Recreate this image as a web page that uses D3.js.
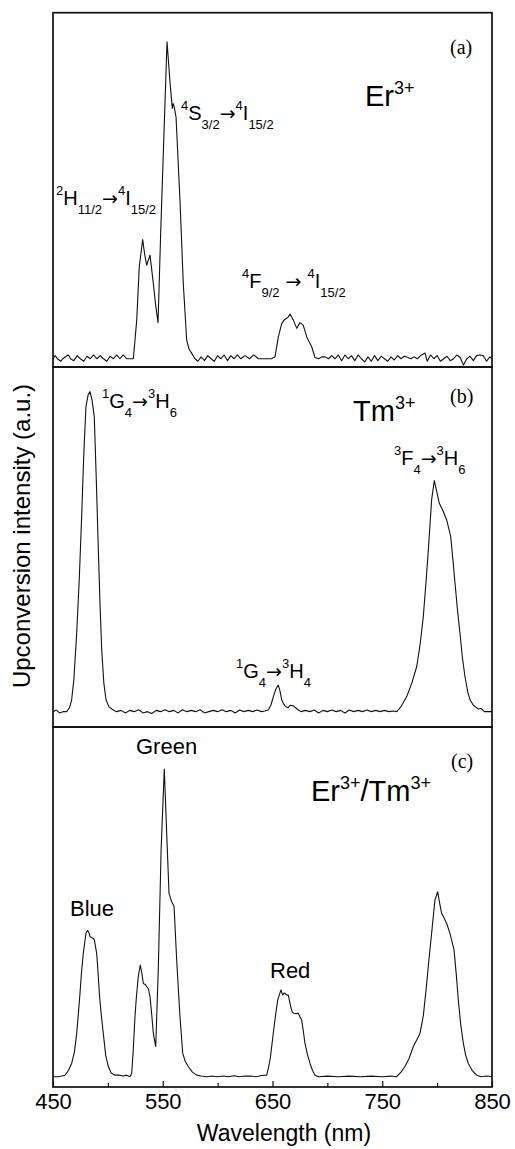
<!DOCTYPE html>
<html><head><meta charset="utf-8">
<script src="https://cdn.jsdelivr.net/npm/d3@7"></script>
<style>body{margin:0;background:#fff}svg{display:block}</style>
</head><body>
<svg id="chart" width="515" height="1149"></svg>
<script>
// ---------- data ----------
const xTicks = [450, 550, 650, 750, 850];
const xMinorTicks = [500, 600, 700, 800];

const erX = [450,452,454,457,459,462,464,466,469,472,475,478,481,484,487,490,493,496,499,502,505,508,511,514,517,520,523.2,526.3,528.6,531.7,533.5,535.3,538.4,541.4,543.5,545.7,548.1,550.6,553.9,556.7,558.7,559.5,560.3,562.1,565.7,568.7,571.8,574,576.4,579.4,582,585,588,591,594,597,600,603,606,609,612,615,618,621,625,629,633,637,641,645,649,652.3,655.3,658.4,660.5,662.3,664,666,669,672.1,675,678,681.2,685.7,688.7,692,695,698,701,704,707,710,713,716,719,722,725,728,731,734,737,740,743,746,749,752,755,758,761,764,767,770,773,776,779,782,785,789,791,794,797,800,803,806,809,812,815,818,821,824,827,830,833,836,839,842,845,848,850];
const erY = [0,0.01,0,-0.008,0,0.008,0.012,0,-0.006,0.01,0,-0.008,0.008,0,0.012,0,0.01,0,-0.008,0.008,0,0.012,0,0.012,0,0,0,0.122,0.29,0.376,0.33,0.295,0.327,0.238,0.17,0.114,0.395,0.658,1.0,0.869,0.79,0.805,0.797,0.763,0.5,0.238,0.059,0.03,0.017,0,-0.008,0.006,-0.006,0.01,0,-0.008,0.01,0,0.012,-0.006,0.01,0,0.012,0,0.01,0,0.012,0,0,0,0,0.006,0.069,0.111,0.122,0.127,0.13,0.141,0.122,0.096,0.114,0.106,0.069,0.038,0.004,0,0.006,0.006,0,0.01,0,0.012,-0.006,0.012,0,0.01,-0.006,0.012,0,-0.01,0.006,-0.008,0.01,-0.006,0.008,0,-0.008,0.006,-0.004,0.01,0,0.008,0.005,0,0.006,0,0.01,0.018,-0.008,0.012,0,0.01,-0.008,0,0.008,-0.006,0,0.012,0.004,-0.02,0,0.008,-0.006,0.01,0.012,0.01,-0.008,0.006,0];

const tmX = [450,453,456,459,462.5,465,467,469,471.6,474,476.1,478,480,482,483.7,485.5,487.6,489.5,491.3,493,494.4,496.3,498.3,501,504.9,508,512,516,520,524,528,532,536,540,544,548,552,556,560,564,568,572,576,580,584,588,592,596,600,604,608,612,616,620,624,628,632,636,640,643,646.2,648.5,650.8,653,655.3,656.8,658.4,660,661.4,664,666,669,671,673.5,676,680,684,688,692,696,700,704,708,712,716,720,724,728,732,736,740,744,748,752,756,760,763.2,767,772.3,777,781.4,784.5,787.4,790,792,795,797.4,799.5,802,805,808.7,812.4,814.5,816.3,818.5,820.8,823,825.4,828,830,833,837.5,840,843,846,850];
const tmY = [0,0.005,-0.004,0,0,0.012,0.037,0.1,0.246,0.42,0.609,0.8,0.953,0.99,1.0,0.975,0.922,0.72,0.506,0.32,0.193,0.09,0.037,0.015,0.005,0,0.004,-0.004,0.004,0,0.006,-0.004,0,-0.006,0.004,0,0.006,0,0.004,-0.004,0.006,0,0.004,0,0.006,-0.004,0,0.004,0,0.006,0,0.004,-0.004,0.005,0,0.004,0,0.005,0,0.002,0.005,0.02,0.047,0.07,0.083,0.065,0.037,0.025,0.018,0.012,0.02,0.018,0.012,0.005,0,0.004,0,0.005,-0.004,0.004,0,0.005,0,0.004,-0.004,0.005,0,0.004,0,0.005,0,0.004,0,0.004,0,0.002,0,0.015,0.047,0.09,0.141,0.21,0.297,0.41,0.505,0.662,0.722,0.69,0.651,0.63,0.599,0.547,0.47,0.401,0.32,0.245,0.17,0.109,0.06,0.037,0.02,0.008,0.01,0,0,0];

const erTmX = [450,455,458,460.9,464,467,469.5,471.6,473,474.6,476,477.6,480,481.6,482.6,483.7,485.5,487.6,489.8,491,492.2,494,495.8,498,500.4,503,506.5,510,514,517,520.2,521.7,523,524.7,526,527.7,529.5,530.8,532.3,534,535.3,537,538.4,540,541.4,543.6,546,548.5,551.4,553.6,555.7,558.1,560.3,562.7,565.7,568.2,570.5,573.3,577,581,585,590,595,600,605,610,615,620,625,630,635,640,644.7,646.2,648,650.7,652.8,654.7,657.7,659.3,660.5,661.4,663,664.4,666.6,668,669.6,671.5,673.5,675,676.6,678,679.6,682,684.2,686.5,688.7,692,700,710,720,730,740,750,758,763.2,767,770.7,774.5,778.3,781.5,784.4,787.5,790.5,792.8,795,798,800.5,802,804.1,806.5,808.7,811.7,815.4,817.5,819.3,821.5,823.9,826,828.4,832,836.1,840,845,850];
const erTmY = [0,0,0.002,0.005,0.02,0.043,0.08,0.141,0.2,0.271,0.34,0.401,0.466,0.475,0.47,0.455,0.452,0.446,0.401,0.34,0.271,0.2,0.141,0.07,0.033,0.012,0.005,0.005,0.002,0.005,0,0.011,0.08,0.195,0.26,0.325,0.363,0.34,0.303,0.3,0.293,0.285,0.26,0.2,0.141,0.098,0.358,0.737,1.0,0.791,0.596,0.569,0.553,0.379,0.195,0.076,0.05,0.033,0.015,0.005,0.002,0,0.002,0,0.002,0,0.003,0,0.002,0.002,0,0.004,0.005,0.027,0.06,0.141,0.2,0.249,0.282,0.265,0.272,0.271,0.265,0.265,0.228,0.21,0.206,0.205,0.206,0.195,0.184,0.15,0.108,0.07,0.043,0.02,0.005,0,0.002,0,0.002,0,0.002,0,0.002,0,0.015,0.033,0.06,0.098,0.12,0.141,0.2,0.303,0.39,0.466,0.574,0.601,0.57,0.531,0.515,0.498,0.466,0.412,0.33,0.249,0.17,0.108,0.07,0.043,0.02,0.005,0,0.002,0];

// ---------- drawing ----------
const svg = d3.select('#chart');
const SANS = 'Liberation Sans, Arial, Helvetica, sans-serif';
const SERIF = 'Liberation Serif, Times New Roman, serif';
const x = d3.scaleLinear().domain([450, 850]).range([53, 492]);

const panels = [
  {top: 12.7, bottom: 367, dom: [-0.026, 1.092], xs: erX, ys: erY},
  {top: 367, bottom: 727, dom: [-0.048, 1.077], xs: tmX, ys: tmY},
  {top: 727, bottom: 1087, dom: [-0.0335, 1.1365], xs: erTmX, ys: erTmY}
];

panels.forEach((p, i) => {
  const y = d3.scaleLinear().domain(p.dom).range([p.bottom, p.top]);
  const pts = p.xs.map((v, k) => [v, p.ys[k]]);
  const line = d3.line().x(d => x(d[0])).y(d => y(d[1]));
  svg.append('path').datum(pts).attr('d', line)
    .attr('fill', 'none').attr('stroke', '#111').attr('stroke-width', 1.1)
    .attr('stroke-linejoin', 'round');
  svg.append('rect').attr('x', x(450)).attr('y', p.top)
    .attr('width', x(850) - x(450)).attr('height', p.bottom - p.top)
    .attr('fill', 'none').attr('stroke', '#111').attr('stroke-width', 1.7);
});

// bottom axis
const axG = svg.append('g').attr('transform', `translate(0,${panels[2].bottom})`);
axG.call(d3.axisBottom(x).tickValues(xTicks).tickSizeInner(-6).tickSizeOuter(0).tickPadding(6).tickFormat(d3.format('d')));
axG.select('.domain').remove();
axG.selectAll('.tick line').attr('stroke', '#111').attr('stroke-width', 1.2);
axG.selectAll('.tick text').attr('font-family', SANS).attr('font-size', 22).attr('fill', '#000');
const axM = svg.append('g').attr('transform', `translate(0,${panels[2].bottom})`);
axM.call(d3.axisBottom(x).tickValues(xMinorTicks).tickSizeInner(-4).tickSizeOuter(0).tickFormat(''));
axM.select('.domain').remove();
axM.selectAll('.tick line').attr('stroke', '#111').attr('stroke-width', 1.2);

svg.append('text').attr('x', 284).attr('y', 1141).attr('text-anchor', 'middle')
  .attr('font-family', SANS).attr('font-size', 23).text('Wavelength (nm)');
svg.append('text').attr('transform', 'translate(30,536) rotate(-90)').attr('text-anchor', 'middle')
  .attr('font-family', SANS).attr('font-size', 24).text('Upconversion intensity (a.u.)');

// rich text helper
function rich(x0, y0, parts, fs, small, supS, subS) {
  const t = svg.append('text').attr('x', x0).attr('y', y0)
    .attr('font-family', SANS).attr('font-size', fs).attr('fill', '#000');
  let cur = 0;
  parts.forEach(([s, k]) => {
    const target = k === 'sup' ? supS : k === 'sub' ? subS : 0;
    const ts = t.append('tspan').attr('dy', target - cur).attr('font-size', k === 'n' ? fs : small).text(s);
    if (s.includes('→')) ts.attr('font-family', 'DejaVu Sans, sans-serif').attr('font-size', fs * 0.95);
    cur = target;
  });
}
const trans = (x0, y0, parts) => rich(x0, y0, parts, 20, 13, -10.5, 8.5);
const ion = (x0, y0, parts) => rich(x0, y0, parts, 29, 18, -12, 0);

// panel (a)
trans(181, 120, [['4','sup'],['S','n'],['3/2','sub'],['→','n'],['4','sup'],['I','n'],['15/2','sub']]);
trans(56, 205, [['2','sup'],['H','n'],['11/2','sub'],['→','n'],['4','sup'],['I','n'],['15/2','sub']]);
trans(242, 288, [['4','sup'],['F','n'],['9/2','sub'],[' → ','n'],['4','sup'],['I','n'],['15/2','sub']]);
ion(365, 106, [['Er','n'],['3+','sup']]);
svg.append('text').attr('x', 450).attr('y', 54).attr('font-family', SERIF).attr('font-size', 20).text('(a)');

// panel (b)
trans(102, 408, [['1','sup'],['G','n'],['4','sub'],['→','n'],['3','sup'],['H','n'],['6','sub']]);
trans(394, 465, [['3','sup'],['F','n'],['4','sub'],['→','n'],['3','sup'],['H','n'],['6','sub']]);
trans(236, 678, [['1','sup'],['G','n'],['4','sub'],['→','n'],['3','sup'],['H','n'],['4','sub']]);
ion(353, 421, [['Tm','n'],['3+','sup']]);
svg.append('text').attr('x', 450).attr('y', 403).attr('font-family', SERIF).attr('font-size', 20).text('(b)');

// panel (c)
ion(311, 801, [['Er','n'],['3+','sup'],['/Tm','n'],['3+','sup']]);
svg.append('text').attr('x', 451).attr('y', 768).attr('font-family', SERIF).attr('font-size', 20).text('(c)');
[['Green', 136, 754], ['Blue', 70, 916], ['Red', 270, 978]].forEach(([s, xx, yy]) => {
  svg.append('text').attr('x', xx).attr('y', yy).attr('font-family', SANS).attr('font-size', 22).text(s);
});
</script>
</body></html>
